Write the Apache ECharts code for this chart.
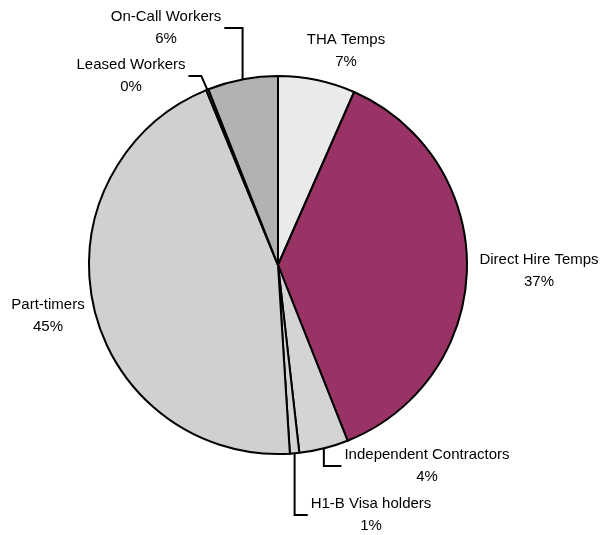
<!DOCTYPE html>
<html>
<head>
<meta charset="utf-8">
<script src="https://cdn.jsdelivr.net/npm/echarts@6/dist/echarts.min.js"></script>
<style>
  html, body { margin: 0; padding: 0; background: #fff; }
  #chart { width: 603px; height: 535px; }
</style>
</head>
<body>
<div id="chart"></div>
<script>
// slices, clockwise from 12 o'clock
var categories = ['THA Temps', 'Direct Hire Temps', 'Independent Contractors', 'H1-B Visa holders', 'Part-timers', 'Leased Workers', 'On-Call Workers'];
var shares = [6.6, 37.4, 4.2, 0.8, 44.8, 0.2, 6.0];

// look of each slice / label (not data)
var sliceColors = ['#EAEAEA', '#993366', '#D4D4D4', '#D4D4D4', '#D0D0D0', '#D0D0D0', '#B2B2B2'];
var labelCenters = [[346, 51], [539, 271], [427, 466], [371, 515], [48, 316], [131, 76], [166, 28]];
// leader bend: null = no leader, number = x offset of the bend from the slice edge point
var leaderBend = [null, null, 0, 0, null, -6, 0];

var cx = 278, cy = 265, R = 189;

var chartDom = document.getElementById('chart');
var myChart = echarts.init(chartDom);

var seriesData = categories.map(function (name, i) {
  return {
    name: name,
    value: shares[i],
    itemStyle: { color: sliceColors[i] },
    labelLine: { show: leaderBend[i] !== null }
  };
});

// edge point at a slice's mid angle (fallback if the library gives none)
function edgePoint(i) {
  var total = shares.reduce(function (a, b) { return a + b; }, 0);
  var before = 0;
  for (var k = 0; k < i; k++) before += shares[k];
  var mid = (before + shares[i] / 2) / total * Math.PI * 2;
  return [cx + R * Math.sin(mid), cy - R * Math.cos(mid)];
}

var option = {
  backgroundColor: '#fff',
  animation: false,
  series: [
    {
      type: 'pie',
      center: [cx, cy],
      radius: R,
      startAngle: 90,
      clockwise: true,
      minAngle: 0,
      avoidLabelOverlap: false,
      itemStyle: { borderColor: '#000', borderWidth: 2 },
      emphasis: { disabled: true },
      label: {
        show: true,
        position: 'outside',
        color: '#000',
        fontFamily: 'Liberation Sans, Arial, sans-serif',
        fontSize: 15,
        lineHeight: 22,
        align: 'center',
        formatter: function (p) {
          return p.name + '\n' + Math.round(p.percent) + '%';
        }
      },
      labelLine: {
        lineStyle: { color: '#000', width: 2 }
      },
      labelLayout: function (params) {
        var i = params.dataIndex;
        var pos = labelCenters[i];
        var out = { x: pos[0], y: pos[1], align: 'center', verticalAlign: 'middle' };
        if (leaderBend[i] !== null) {
          var start = (params.labelLinePoints && params.labelLinePoints[0]) || edgePoint(i);
          var half = params.labelRect.width / 2;
          var onLeft = pos[0] < start[0];
          var endX = onLeft ? pos[0] + half + 3 : pos[0] - half - 3;
          out.labelLinePoints = [start, [start[0] + leaderBend[i], pos[1]], [endX, pos[1]]];
        }
        return out;
      },
      data: seriesData
    }
  ]
};

option && myChart.setOption(option);
</script>
</body>
</html>
